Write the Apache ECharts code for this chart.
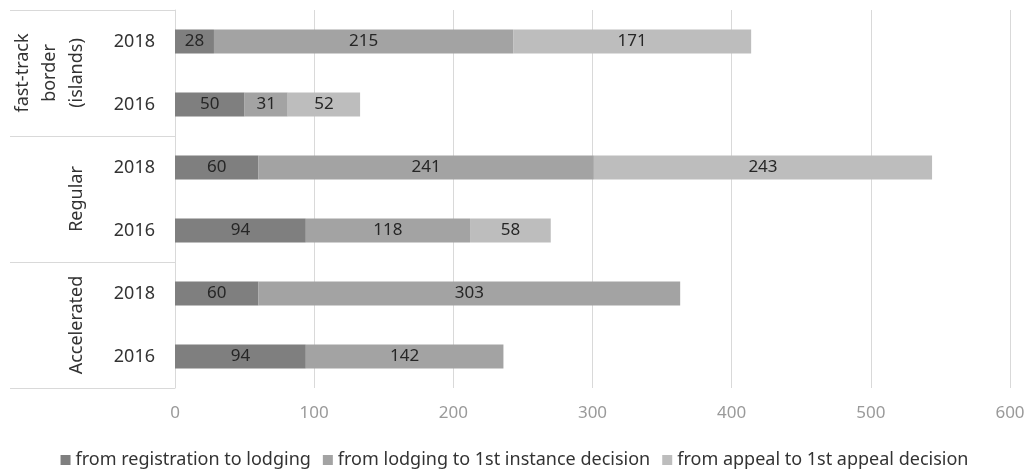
<!DOCTYPE html>
<html><head><meta charset="utf-8">
<script src="https://cdn.jsdelivr.net/npm/echarts@6/dist/echarts.min.js"></script>
<style>html,body{margin:0;padding:0;background:#fff}#c{width:1029px;height:474px}</style>
</head><body><div id="c"></div>
<script>
// categories top to bottom
const years = ['2018', '2016', '2018', '2016', '2018', '2016'];
const groups = ['fast-track\nborder\n(islands)', 'Regular', 'Accelerated'];
const seriesNames = ['from registration to lodging', 'from lodging to 1st instance decision', 'from appeal to 1st appeal decision'];
const regToLodging = [28, 50, 60, 94, 60, 94];
const lodgingToDecision = [215, 31, 241, 118, 303, 142];
const appealToDecision = [171, 52, 243, 58, null, null];
const xTicks = [0, 100, 200, 300, 400, 500, 600];

const colors = ['#7f7f7f', '#a3a3a3', '#bdbdbd'];
const font = 'Noto Sans';
const chart = echarts.init(document.getElementById('c'), null, {renderer: 'canvas'});
const mk = (name, data, i) => ({
  name, type: 'bar', stack: 'total', data, barWidth: '38%',
  itemStyle: {color: colors[i]},
  label: {show: true, position: 'inside', color: '#262626', fontSize: 17, fontFamily: font},
  emphasis: {disabled: true}
});
chart.setOption({
  animation: false,
  color: colors,
  grid: {left: 175, right: 19, top: 10, bottom: 86, containLabel: false},
  xAxis: {
    type: 'value', min: xTicks[0], max: xTicks[xTicks.length - 1], interval: 100,
    axisLine: {show: false}, axisTick: {show: false},
    splitLine: {lineStyle: {color: '#d9d9d9', width: 1}},
    axisLabel: {color: '#9a9a9a', fontSize: 17, fontFamily: font, margin: 17}
  },
  yAxis: [{
    type: 'category', inverse: true, data: years,
    axisLine: {show: true, lineStyle: {color: '#d9d9d9'}}, axisTick: {show: false},
    axisLabel: {interval: 0, color: '#333333', fontSize: 18, fontFamily: font, margin: 20}
  }, {
    type: 'category', inverse: true, data: groups, position: 'left',
    axisLine: {show: false},
    axisTick: {show: true, interval: 0, length: 165, lineStyle: {color: '#d9d9d9'}},
    axisLabel: {interval: 0, color: '#333333', fontSize: 18, fontFamily: font, rotate: 90, margin: 85, lineHeight: 27, align: 'center'}
  }],
  legend: {
    bottom: 0, left: 'center', itemWidth: 10, itemHeight: 10, itemGap: 12, itemTextGap: 6,
    icon: 'rect',
    textStyle: {color: '#333333', fontSize: 18, fontFamily: font},
    data: seriesNames
  },
  series: [
    mk(seriesNames[0], regToLodging, 0),
    mk(seriesNames[1], lodgingToDecision, 1),
    mk(seriesNames[2], appealToDecision, 2)
  ]
});
</script></body></html>
